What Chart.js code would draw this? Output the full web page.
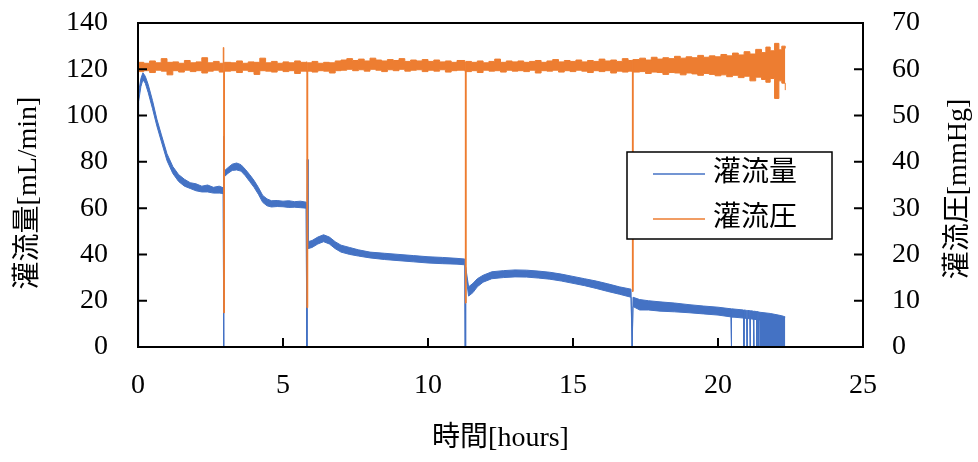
<!DOCTYPE html>
<html>
<head>
<meta charset="utf-8">
<script src="https://cdn.jsdelivr.net/npm/chart.js@4.4.0/dist/chart.umd.min.js"></script>
<style>
  html, body { margin: 0; padding: 0; background: #fff; }
  #wrap { width: 978px; height: 462px; }
</style>
</head>
<body>
<div id="wrap"><canvas id="chart" width="978" height="462"></canvas></div>
<script>
const flowTime = [0.00, 0.02, 0.10, 0.17, 0.25, 0.35, 0.50, 0.65, 0.80, 1.00, 1.20, 1.40, 1.60, 1.80, 2.00, 2.20, 2.40, 2.60, 2.80, 2.94,
  2.95, 2.96, 2.97, 3.10, 3.25, 3.40, 3.55, 3.70, 3.85, 4.00, 4.15, 4.30, 4.45, 4.60, 4.80, 5.00, 5.20, 5.40, 5.60, 5.80,
  5.82, 5.84, 5.86, 6.00, 6.20, 6.40, 6.60, 6.80, 7.00, 7.30, 7.60, 8.00, 8.50, 9.00, 9.50, 10.00, 10.50, 11.00, 11.27,
  11.28, 11.30, 11.40, 11.55, 11.70, 11.90, 12.20, 12.60, 13.00, 13.40, 13.80, 14.20, 14.60, 15.00, 15.40, 15.80, 16.20, 16.60, 17.00,
  17.04, 17.07, 17.30, 17.60, 18.00, 18.50, 19.00, 19.50, 20.00, 20.45, 20.46, 20.47, 20.88, 20.89, 20.90, 20.99, 21.00, 21.01,
  21.10, 21.11, 21.12, 21.22, 21.23, 21.24, 21.33, 21.34, 21.35, 21.39, 21.40, 21.41, 21.44, 21.45, 21.80, 22.00, 22.20, 22.32];
const flowLo = [0, 106, 112.5, 115.5, 114, 110, 103, 95.5, 89, 80.5, 75, 71.5, 69.5, 68.5, 67.5, 67, 67, 66.5, 66.5, 66.3,
  0, 91, 73.5, 75, 76.3, 76.5, 76, 74, 71.5, 69, 66, 62.5, 61, 60.5, 60.7, 60.6, 60.3, 60.4, 60.2, 60,
  0, 81, 42.5, 43, 44.5, 45.5, 44.5, 42.5, 41, 40, 39.3, 38.5, 37.8, 37.3, 36.8, 36.3, 36, 35.8, 35.5,
  0, 31.5, 22, 23.5, 26, 28, 29.5, 30, 30.3, 30.2, 29.8, 29.3, 28.5, 27.5, 26.5, 25.3, 24, 22.8, 21.5,
  0, 17.5, 16, 16, 15.5, 15.2, 14.8, 14.3, 13.8, 13, 0, 13, 12.5, 0, 12.5, 12.3, 0, 12.3,
  12.2, 0, 12.2, 12, 0, 12, 11.8, 0, 11.8, 11.7, 0, 11.7, 11.6, 0, 0, 0, 0, 0];
const flowHi = [0, 110, 116, 118.5, 117, 113.5, 106.5, 98.5, 92, 83.5, 78, 74.5, 72.5, 71, 70.5, 69.5, 70, 69, 69.5, 68.8,
  0, 91, 76, 77.5, 79, 79.5, 78.8, 76.8, 74.5, 72, 69, 65.5, 64, 63.2, 63.3, 63, 63.2, 62.8, 63, 62.6,
  0, 81, 45.5, 46, 47.5, 48.5, 47.5, 45.5, 44, 43, 42, 41, 40.5, 40, 39.5, 39, 38.7, 38.3, 38,
  0, 34.5, 26, 27.5, 29.5, 31, 32.5, 33, 33.3, 33.2, 32.8, 32.3, 31.5, 30.5, 29.5, 28.5, 27.3, 26, 25,
  0, 21.5, 20.5, 20, 19.5, 19, 18.3, 17.7, 17.2, 16.5, 0, 16.5, 16, 0, 16, 15.8, 0, 15.8,
  15.7, 0, 15.7, 15.5, 0, 15.5, 15.3, 0, 15.3, 15.2, 0, 15.2, 15, 15, 14.5, 14, 13.5, 13];

// Pressure (灌流圧, right axis)
const pressTime = [0.00, 0.01, 0.2, 0.4, 0.6, 0.8, 1.0, 1.2, 1.4, 1.6, 1.8, 2.0, 2.2, 2.4, 2.6, 2.8, 2.94, 2.96, 2.98,
  3.2, 3.4, 3.6, 3.8, 4.0, 4.2, 4.4, 4.6, 4.8, 5.0, 5.2, 5.4, 5.6, 5.81, 5.83, 5.85,
  6.0, 6.2, 6.4, 6.6, 6.8, 7.0, 7.2, 7.4, 7.6, 7.8, 8.0, 8.2, 8.4, 8.6, 8.8, 9.0, 9.2, 9.4, 9.6, 9.8,
  10.0, 10.2, 10.4, 10.6, 10.8, 11.0, 11.27, 11.29, 11.31, 11.5, 11.7, 11.9, 12.1, 12.3, 12.5, 12.7, 12.9,
  13.1, 13.3, 13.5, 13.7, 13.9, 14.1, 14.3, 14.5, 14.7, 14.9, 15.1, 15.3, 15.5, 15.7, 15.9, 16.1, 16.3, 16.5, 16.7, 16.9,
  17.03, 17.05, 17.07, 17.3, 17.5, 17.7, 17.9, 18.1, 18.3, 18.5, 18.7, 18.9, 19.1, 19.3, 19.5, 19.7, 19.9,
  20.1, 20.3, 20.5, 20.7, 20.9, 21.1, 21.3, 21.5, 21.65, 21.8, 21.95, 22.1, 22.2, 22.32];
const pressLo = [0, 59.5, 59.7, 59.3, 59.8, 59.6, 58.8, 59.7, 59.4, 59.8, 59.5, 59.7, 59.2, 59.6, 59.8, 59.4, 59.5, 7.4, 59.6,
  59.7, 59.3, 59.8, 59.5, 58.9, 59.7, 59.6, 59.4, 59.8, 59.5, 59.7, 59.1, 59.6, 59.5, 8.5, 59.6,
  59.4, 59.7, 59.6, 59.2, 59.7, 59.8, 60.0, 59.7, 59.9, 59.6, 60.0, 59.8, 59.5, 59.9, 59.7, 60.0, 59.6, 59.8, 59.9, 59.5,
  59.8, 59.6, 59.9, 59.4, 59.7, 59.8, 59.6, 9.5, 59.5, 59.7, 59.3, 59.8, 59.6, 59.7, 59.4, 59.8, 59.6,
  59.7, 59.5, 59.8, 59.2, 59.7, 59.6, 59.8, 59.4, 59.7, 59.5, 59.8, 59.6, 59.3, 59.7, 59.5, 59.7, 59.2, 59.6, 59.4, 59.6,
  59.5, 12.0, 59.4, 59.5, 59.1, 59.4, 59.3, 58.9, 59.3, 59.2, 58.8, 59.2, 59.0, 58.7, 59.1, 58.9, 58.6,
  58.8, 58.4, 58.7, 58.2, 58.5, 57.5, 58.3, 57.8, 57.2, 58.0, 53.7, 57.5, 57.0, 55.5];
const pressHi = [0, 61.5, 61.3, 61.8, 61.4, 62.3, 61.5, 61.6, 61.3, 61.9, 61.4, 61.6, 62.5, 61.4, 61.7, 61.3, 64.7, 7.4, 61.5,
  61.4, 61.8, 61.3, 61.6, 61.5, 62.4, 61.4, 61.7, 61.3, 61.6, 61.4, 61.8, 61.5, 61.6, 8.5, 61.4,
  61.7, 61.3, 61.5, 61.4, 61.8, 62.0, 62.3, 61.9, 62.2, 61.8, 62.4, 62.0, 61.8, 62.1, 61.9, 62.3, 61.7, 62.0, 61.8, 62.1,
  61.7, 62.0, 61.6, 61.8, 61.5, 61.9, 61.6, 9.5, 61.7, 61.5, 61.8, 61.4, 61.7, 62.2, 61.5, 61.8, 61.6,
  61.8, 61.5, 61.7, 61.9, 61.5, 61.8, 62.1, 61.6, 61.9, 61.7, 62.0, 61.6, 61.9, 61.7, 62.2, 61.8, 62.0, 61.7, 62.3, 61.9,
  62.0, 12.0, 62.1, 62.4, 62.0, 62.6, 62.2, 62.5, 62.3, 62.8, 62.4, 62.7, 62.5, 63.0, 62.6, 62.9, 62.7,
  63.2, 62.9, 63.5, 63.1, 63.8, 63.3, 64.3, 63.6, 64.8, 64.0, 65.6, 64.2, 65.0, 64.5];

const seriesNames = ['灌流量', '灌流圧'];
const seriesColors = ['#4472C4', '#ED7D31'];
const xTicks = { min: 0, max: 25, step: 5 };
const yTicks = { min: 0, max: 140, step: 20 };
const y2Ticks = { min: 0, max: 70, step: 10 };
const axisTitles = { x: '時間[hours]', y: '灌流量[mL/min]', y2: '灌流圧[mmHg]' };

const FONT = '"Liberation Serif", "Noto Sans CJK JP", serif';
const toPoints = (xs, ys) => xs.map((x, i) => ({ x: x, y: ys[i] }));

// Frame, inward ticks, axis titles and legend
const decorPlugin = {
    id: 'decor',
    afterDatasetsDraw(chart) {
        const { ctx, chartArea: a, scales } = chart;
        ctx.save();
        ctx.strokeStyle = '#000';
        ctx.lineWidth = 2;
        ctx.strokeRect(a.left, a.top, a.right - a.left, a.bottom - a.top);
        ctx.beginPath();
        scales.x.ticks.forEach(t => {
            const px = scales.x.getPixelForValue(t.value);
            ctx.moveTo(px, a.bottom); ctx.lineTo(px, a.bottom - 9);
        });
        scales.y.ticks.forEach(t => {
            const py = scales.y.getPixelForValue(t.value);
            ctx.moveTo(a.left, py); ctx.lineTo(a.left + 9, py);
        });
        scales.y2.ticks.forEach(t => {
            const py = scales.y2.getPixelForValue(t.value);
            ctx.moveTo(a.right, py); ctx.lineTo(a.right - 9, py);
        });
        ctx.stroke();

        // axis titles
        ctx.fillStyle = '#000';
        ctx.font = '28px ' + FONT;
        ctx.textAlign = 'center';
        ctx.textBaseline = 'middle';
        ctx.fillText(axisTitles.x, (a.left + a.right) / 2, 439);
        const midY = (a.top + a.bottom) / 2;
        ctx.save();
        ctx.translate(29, midY + 8);
        ctx.rotate(-Math.PI / 2);
        ctx.fillText(axisTitles.y, 0, 0);
        ctx.restore();
        ctx.save();
        ctx.translate(959, midY + 4);
        ctx.rotate(-Math.PI / 2);
        ctx.fillText(axisTitles.y2, 0, 0);
        ctx.restore();

        // legend box
        ctx.fillStyle = '#fff';
        ctx.fillRect(627, 152, 205, 87);
        ctx.lineWidth = 1.5;
        ctx.strokeRect(627, 152, 205, 87);
        seriesNames.forEach((name, i) => {
            const cy = 174 + i * 45;
            ctx.strokeStyle = seriesColors[i];
            ctx.lineWidth = 1.5;
            ctx.beginPath();
            ctx.moveTo(653, cy); ctx.lineTo(705, cy);
            ctx.stroke();
            ctx.fillStyle = '#000';
            ctx.textAlign = 'left';
            ctx.fillText(name, 713, cy);
        });
        ctx.restore();
    }
};

// keep the plot box where the reference has it
const fixY = w => s => { s.width = w; s.paddingTop = 0; s.paddingBottom = 0; };
const fixX = h => s => { s.height = h; s.paddingLeft = 0; s.paddingRight = 0; };

const ctx = document.getElementById('chart').getContext('2d');

new Chart(ctx, {
    type: 'line',
    data: {
        datasets: [
            { label: seriesNames[0], data: toPoints(flowTime, flowHi), yAxisID: 'y', borderColor: seriesColors[0], order: 2 },
            { label: seriesNames[0] + ' lo', data: toPoints(flowTime, flowLo), yAxisID: 'y', borderColor: seriesColors[0],
              backgroundColor: seriesColors[0], fill: '-1', order: 2 },
            { label: seriesNames[1], data: toPoints(pressTime, pressHi), yAxisID: 'y2', borderColor: seriesColors[1],
              stepped: true, order: 1 },
            { label: seriesNames[1] + ' lo', data: toPoints(pressTime, pressLo), yAxisID: 'y2', borderColor: seriesColors[1],
              backgroundColor: seriesColors[1], fill: '-1', stepped: true, order: 1 }
        ]
    },
    options: {
        responsive: false,
        animation: false,
        layout: { padding: { top: 23, left: 0, right: 0, bottom: 0 } },
        elements: {
            point: { radius: 0 },
            line: { borderWidth: 1, tension: 0 }
        },
        scales: {
            x: {
                type: 'linear', min: xTicks.min, max: xTicks.max,
                grid: { display: false, drawTicks: false },
                border: { display: false },
                ticks: { stepSize: xTicks.step, color: '#000', padding: 22, font: { family: FONT, size: 28 } },
                afterFit: fixX(115)
            },
            y: {
                position: 'left', min: yTicks.min, max: yTicks.max,
                grid: { display: false, drawTicks: false },
                border: { display: false },
                ticks: { stepSize: yTicks.step, color: '#000', padding: 30, font: { family: FONT, size: 28 } },
                afterFit: fixY(138)
            },
            y2: {
                position: 'right', min: y2Ticks.min, max: y2Ticks.max,
                grid: { display: false, drawTicks: false },
                border: { display: false },
                ticks: { stepSize: y2Ticks.step, color: '#000', padding: 29, font: { family: FONT, size: 28 } },
                afterFit: fixY(115)
            }
        },
        plugins: {
            legend: { display: false },
            tooltip: { enabled: false }
        }
    },
    plugins: [decorPlugin]
});
</script>
</body>
</html>
